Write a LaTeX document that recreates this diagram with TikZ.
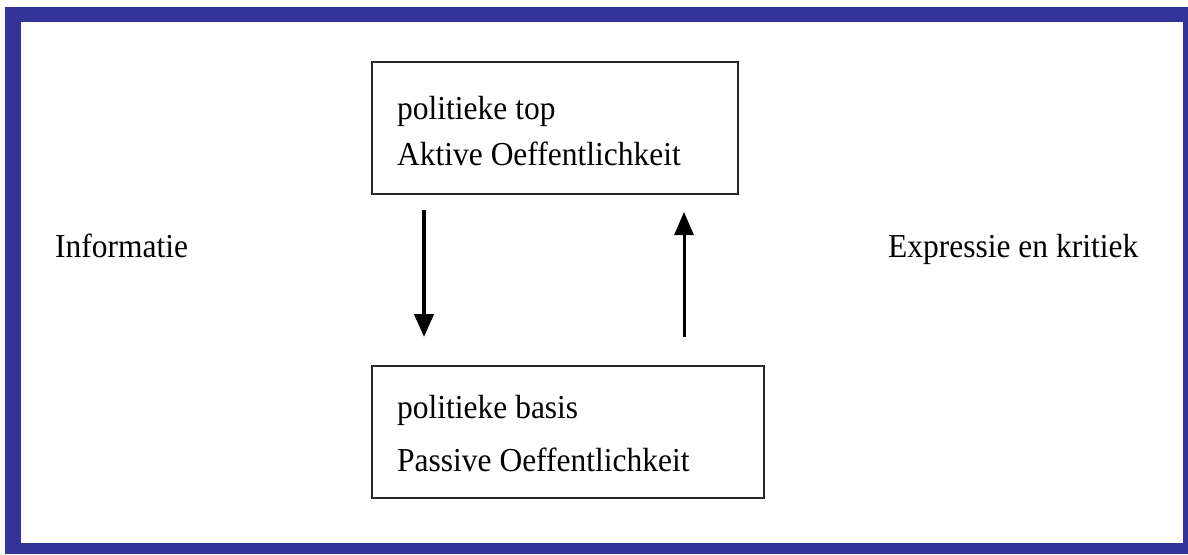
\documentclass[tikz,border=0pt]{standalone}
\usepackage{fontspec}
\setmainfont{Liberation Serif}[FakeStretch=0.94]
\usetikzlibrary{arrows.meta}
\definecolor{frameblue}{RGB}{51,51,153}
\tikzset{
  boxnode/.style={draw=black!85, line width=2pt, inner sep=0pt, fill=white},
  txt/.style={anchor=base west, inner sep=0pt, font=\fontsize{33.5}{38}\selectfont, text=black},
  flowarrow/.style={-{Triangle[width=19pt,length=23pt]}, black}
}
\begin{document}
\begin{tikzpicture}[x=1pt,y=-1pt]
\useasboundingbox (0,0) rectangle (1188,554);
\fill[white] (0,0) rectangle (1188,554);
\fill[frameblue] (5,7) rectangle (1188,554);
\fill[white] (21,22) rectangle (1183,543);
% boxes
\node[boxnode, minimum width=366pt, minimum height=132pt] (top) at (555,128) {};
\node[boxnode, minimum width=392pt, minimum height=132pt] (bot) at (568,432) {};
% box texts
\node[txt] (top1) at (397,119) {politieke top};
\node[txt] (top2) at (397,165) {Aktive Oeffentlichkeit};
\node[txt] (bot1) at (397,418) {politieke basis};
\node[txt] (bot2) at (397,471) {Passive Oeffentlichkeit};
% side labels
\node[txt] (info) at (55,257) {Informatie};
\node[txt] (expr) at (888,257) {Expressie en kritiek};
% arrows
\coordinate (d1) at (424,210);
\coordinate (d2) at (424,337);
\coordinate (u1) at (684,337);
\coordinate (u2) at (684,212);
\draw[flowarrow, line width=4pt] (d1) -- (d2);
\draw[flowarrow, line width=3pt] (u1) -- (u2);
\end{tikzpicture}
\end{document}
